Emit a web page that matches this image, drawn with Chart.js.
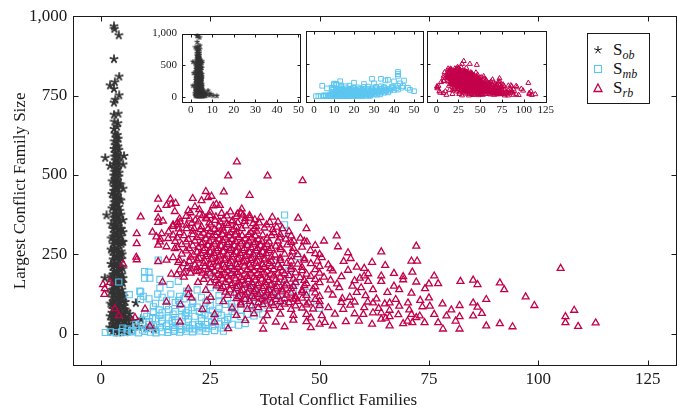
<!DOCTYPE html>
<html lang="en">
<head>
<meta charset="UTF-8">
<title>Conflict families</title>
<script src="https://cdn.jsdelivr.net/npm/chart.js"></script>
<style>
  body { margin: 0; background: #fff; }
  #wrap { position: relative; width: 697px; height: 413px; }
  #wrap > canvas { position: absolute; }
  #legend { position: absolute; left: 587px; top: 33px; width: 61px; height: 69px; border: 1px solid #1a1a1a; background: #fff;
            font-family: "Liberation Serif", "Times New Roman", serif; color: #111; }
  .row { position: absolute; left: 0; width: 60px; height: 20px; }
  .row canvas { position: absolute; left: 4px; top: 4px; }
  .row span { position: absolute; left: 25px; top: 0; font-size: 17px; line-height: 20px; white-space: nowrap; }
  .row sub { font-size: 12px; font-style: italic; vertical-align: -4px; line-height: 0; }
</style>
</head>
<body>
<div id="wrap">
  <canvas id="main" width="697" height="413" style="left:0;top:0"></canvas>
  <canvas id="inOb" width="166" height="100" style="left:140px;top:22px"></canvas>
  <canvas id="inMb" width="130" height="100" style="left:300px;top:22px"></canvas>
  <canvas id="inRb" width="134" height="100" style="left:421px;top:22px"></canvas>
  <div id="legend">
    <div class="row" style="top:6px"><canvas id="lgOb" width="12" height="12"></canvas><span>S<sub>ob</sub></span></div>
    <div class="row" style="top:25px"><canvas id="lgMb" width="12" height="12"></canvas><span>S<sub>mb</sub></span></div>
    <div class="row" style="top:44px"><canvas id="lgRb" width="12" height="12"></canvas><span>S<sub>rb</sub></span></div>
  </div>
</div>

<script>
// tick positions
const mainXTicks = [0, 25, 50, 75, 100, 125];
const mainYTicks = [0, 250, 500, 750, 1000];
const insetObXTicks = [0, 10, 20, 30, 40, 50];
const insetMbXTicks = [0, 10, 20, 30, 40, 50];
const insetRbXTicks = [0, 25, 50, 75, 100, 125];
const insetYTicks = [0, 500, 1000];

// S_ob : [total conflict families, largest family size]
const obPoints = [
  [3.0,968],[3.1,960],[4.1,940],[3.0,865],[4.2,810],[3.2,792],[2.1,782],[3.0,771],[4.2,751],[3.0,728],[3.3,737],
  [3.0,690],[4.0,693],[3.1,668],[3.9,663],[3.0,645],[3.7,652],[1.0,554],[5.3,560],[2.1,529],[5.1,533],[5.1,457],
  [1.3,373],[5.1,358],[5.1,320],[5.1,289],[5.1,175],[0.9,175],[8.0,97],[6.6,62],[7.4,40],[9.2,45],[8.6,22],
  [10.4,18],[12.1,14],
  [3.2,630],[3.8,626],[3.4,618],[4.0,614],[3.1,606],[3.7,603],[3.3,594],[3.9,590],[3.0,582],[3.6,585],[4.1,579],
  [3.2,570],[3.8,567],[3.1,558],[3.7,561],[4.2,555],[3.3,546],[3.9,543],[3.0,534],[3.6,537],[4.1,531],[3.2,522],
  [3.8,519],[3.1,510],[3.7,513],[4.2,507],[2.9,498],[3.5,501],[4.1,495],[3.2,486],[3.8,483],[3.0,474],[3.6,477],
  [4.2,471],[3.1,462],[3.7,459],[2.9,450],[3.5,453],[4.1,447],[3.2,438],[3.8,435],[3.0,426],[3.6,429],[4.2,423],
  [3.1,414],[3.7,411],[2.9,402],[3.5,405],[4.1,399],[3.2,390],[3.8,393],[4.3,387],[3.0,378],[3.6,375],[2.9,366],
  [3.5,369],[4.1,363],[3.1,354],[3.7,357],[4.3,351],[3.0,342],[3.6,339],[2.8,330],[3.4,333],[4.0,327],[4.5,331],
  [3.1,318],[3.7,315],[2.8,306],[3.4,309],[4.1,303],[4.6,307],[3.0,294],[3.7,291],[2.8,282],[3.5,285],[4.2,279],
  [4.7,283],[3.1,270],[3.8,267],[2.7,258],[3.4,261],[4.1,255],[4.7,259],[3.0,246],[3.7,243],[4.4,249],[2.8,234],
  [3.5,237],[4.2,231],[4.8,235],[3.1,222],[3.8,219],[2.7,210],[3.4,213],[4.1,207],[4.7,211],[3.0,198],[3.7,195],
  [4.4,201],[2.7,186],[3.4,189],[4.1,183],[4.8,187],[3.1,174],[3.8,171],[4.5,177],[2.6,162],[3.3,165],[4.0,159],
  [4.7,163],[3.0,150],[3.7,147],[4.4,153],[2.6,138],[3.3,141],[4.0,135],[4.8,139],[2.9,126],[3.6,129],[4.3,123],
  [5.0,127],[2.6,114],[3.3,117],[4.0,111],[4.7,115],[2.8,102],[3.5,105],[4.2,99],[5.0,103],[2.5,90],[3.2,93],
  [3.9,87],[4.6,91],[5.3,88],[2.8,78],[3.5,81],[4.2,75],[4.9,79],[5.6,76],[2.5,66],[3.2,69],[3.9,63],[4.6,67],
  [5.3,64],[2.7,54],[3.4,57],[4.1,51],[4.8,55],[5.6,52],[2.5,42],[3.2,45],[3.9,39],[4.6,43],[5.4,40],[6.0,44],
  [2.7,30],[3.4,33],[4.1,27],[4.9,31],[5.7,28],[2.5,18],[3.2,21],[3.9,15],[4.6,19],[5.4,16],[6.2,20],[2.6,6],
  [3.3,9],[4.0,4],[4.8,8],[5.6,5],
  [2.6,480],[4.5,470],[2.5,440],[4.6,420],[2.5,395],[4.6,375],[2.4,345],[4.7,330],[2.4,300],[4.8,290],[2.3,265],
  [4.9,250],[2.3,220],[5.0,205],[2.2,180],[5.0,160],[2.2,130],[5.2,118],[2.2,95],[5.6,100],[6.0,70],[6.3,50],
  [6.5,30],[6.8,10],[2.0,20],[2.1,55]
];

// S_mb
const mbPoints = [
  [1.0,4],[2.2,6],[3.5,3],[4.8,7],[6.0,4],[7.3,6],[8.6,3],[10.0,7],[11.3,5],[12.6,3],[14.0,6],[15.3,4],[16.7,7],
  [18.0,5],[19.5,8],[21.0,6],[22.5,9],[24.0,7],[26.0,10],[28.0,8],
  [5.0,18],[8.0,22],[10.5,17],[12.0,24],[13.5,19],[15.0,25],[16.5,20],[18.0,26],[19.5,21],[21.0,28],[22.5,23],
  [24.0,29],[25.5,24],[27.0,31],[28.5,26],[30.0,30],[31.5,27],[33.0,32],
  [9.0,42],[11.0,38],[12.5,47],[14.0,41],[15.5,50],[17.0,44],[18.5,53],[20.0,46],[21.5,55],[23.0,48],[24.5,57],
  [26.0,50],[27.5,58],[29.0,52],[30.5,60],[32.0,54],[33.5,61],[35.0,56],[37.0,62],
  [10.0,63],[12.0,70],[14.0,66],[15.5,76],[17.0,70],[18.5,80],[20.0,74],[22.0,84],[23.5,77],[25.0,88],[27.0,80],
  [28.5,92],[30.0,84],[32.0,95],[34.0,87],[36.0,98],[38.0,90],[40.0,100],
  [12.5,96],[15.0,104],[17.0,98],[19.0,110],[21.0,103],[23.0,115],[25.0,108],[27.0,120],[29.0,112],[31.0,124],
  [33.0,116],[35.0,128],[37.0,120],[39.0,130],[41.0,125],
  [22.0,138],[25.0,145],[27.0,150],[31.0,146],[33.5,155],[35.0,142],[39.0,150],[42.0,160],[44.5,160],[47.0,130],
  [48.0,100],
  [9.5,12],[11.0,30],[12.5,12],[14.0,33],[15.5,13],[17.0,35],[18.5,14],[20.0,37],[21.5,15],[23.0,40],[24.5,16],
  [26.0,42],[27.5,18],[29.0,45],[10.5,55],[12.0,85],[13.5,58],[15.0,88],[16.5,62],[18.0,92],[19.5,66],[21.0,96],
  [22.5,70],[24.0,100],[25.5,74],[27.0,104],[14.0,115],[16.0,125],[18.0,118],[20.0,128],[11.0,110],[13.0,125],
  [7.0,10],[8.0,30],[6.0,15],[30.0,70],[32.0,75],[34.0,110],[36.0,78],[38.0,110],[42.0,105],[44.0,135],
  [11.8,48],[13.3,75],[16.3,40],[17.8,105],[19.3,58],[20.8,82],[22.3,30],[23.8,62],[25.3,36],[26.8,66],[28.3,40],
  [29.8,95],[16.8,12],[20.3,16],[23.3,18],
  [4.1,163],[6.5,123],[9.1,132],[9.1,108],[10.0,196],[10.0,175],[11.0,194],[11.2,175],[13.5,171],[8.9,134],
  [9.7,118],[13.5,144],[15.8,155],[17.7,165],[19.6,134],[13.1,232],[42.0,374],[42.0,343],[42.0,315],[45.0,243],
  [50.0,80],[40.0,230],[35.7,245],[29.0,270],[33.5,270],[37.0,255],[25.0,190],[30.0,200],[20.0,210],[43.0,200]
];

// S_rb
const rbPoints = [
  [0.5,155],[0.9,142],[0.8,124],[2.1,162],[3.2,79],[4.1,57],[5.1,219],[8.2,315],[8.2,284],[8.1,241],[8.2,233],
  [9.1,368],[7.8,51],[10.1,78],[11.2,24],
  [31.1,541],[29.1,497],[38.1,497],[46.1,482],[24.0,448],[28.1,447],[34.0,436],[25.3,433],[21.0,426],[24.5,429],
  [23.0,419],[13.1,424],[15.9,424],[17.1,411],[16.1,408],[15.0,404],[13.1,392],[16.9,385],[20.0,388],[21.5,400],
  [22.5,391],[25.7,403],[26.4,408],[27.2,404],[32.2,393],[31.2,377],[32.5,374],[34.0,364],[32.9,354],[29.9,352],
  [39.2,367],[38.6,351],[37.9,343],[36.2,349],[45.1,364],[47.0,331],[13.1,365],[13.1,351],[14.2,355],[20.3,362],
  [24.9,372],[24.2,362],[17.7,343],[16.5,343],[18.1,352],[19.6,331],[11.8,320],[12.7,305],[13.9,315],[15.4,300],
  [13.5,289],[40.9,302],[42.3,298],[44.1,292],[47.1,289],[41.1,265],[51.0,292],[50.0,250],[53.9,308],[54.2,274],
  [57.1,237],
  [13.1,279],[15.0,274],[16.9,268],[13.1,227],[15.0,232],[16.5,240],[17.7,225],[16.1,188],[17.4,186],[19.0,191],
  [20.5,191],[21.9,196],[23.2,191],[14.1,163],[22.2,162],[20.0,123],[20.7,113],[25.1,115],[24.2,103],[15.0,100],
  [18.2,92],[23.2,77],[18.1,37],[26.0,37],
  [72.1,276],[64.1,258],[71.0,229],[72.3,229],[105.1,206],[71.2,194],[60.2,206],[76.2,182],[82.2,165],[85.1,169],
  [86.1,155],[91.2,160],[92.2,139],[77.1,158],[75.0,157],[72.1,163],[97.1,116],[88.1,108],[99.1,89],[108.2,74],
  [106.2,54],[106.2,35],[109.1,23],[113.1,34],[94.1,22],[91.2,32],[88.1,25],[85.1,97],[86.1,84],[87.1,64],
  [85.1,56],[82.0,89],[82.0,54],[82.0,15],[81.1,40],[78.1,94],[78.2,15],[77.1,35],[80.1,75],[79.0,56],[75.2,87],
  [76.2,61],[74.1,142],[75.0,113],[71.0,128],[69.1,180],[69.1,170],[68.2,139],[68.2,87],[70.2,97],[71.0,61],
  [72.1,51],[69.1,32],[71.2,35],[70.1,40],[72.9,56],[67.4,108],[66.0,97],[66.0,74],[66.0,54],[64.1,182],
  [64.1,165],[64.1,66],[64.1,46],[61.1,189],[60.2,182],[61.1,165],[58.0,167],[59.2,175],[62.2,97],[62.2,66],
  [60.0,61],[60.2,82],[65.1,49],[64.9,94],[62.2,139],[56.0,38],[58.0,63],[55.4,77],[56.9,115],[55.2,111],
  [58.5,130],[60.5,120],[63.0,110],[65.5,130],[67.0,150],[59.5,145],[61.0,100],[63.5,80],[57.0,90],[59.0,40],
  [62.0,30],[66.0,25],[68.0,60],[70.5,75],[73.0,105],[73.5,85],[74.0,35],[67.0,190],[62.0,225],[58.5,210],
  [56.5,255],[65.0,215],
  [50.5,240],[52.5,205],[55.0,180],[54.5,145],[56.5,200],[55.5,228],[53.0,25],[50.0,30],[57.5,150],[58.0,100],
  [44.5,110],[48.0,50],
  [20.5,381],[22.6,377],[25.0,383],[27.6,379],[29.6,384],[32.0,380],
  [18.0,362],[21.6,358],[24.0,364],[26.1,357],[28.1,361],[30.1,356],[33.0,363],[35.2,359],
  [16.5,338],[19.6,342],[23.0,337],[25.1,343],[27.0,339],[29.1,341],[31.0,336],[33.1,340],[35.5,338],[40.2,336],
  [15.5,321],[18.0,318],[21.0,323],[23.5,317],[25.0,322],[26.6,319],[28.0,324],[29.5,318],[31.0,321],[34.3,319],
  [35.6,323],[39.5,318],[43.0,322],
  [13.6,298],[17.5,302],[20.0,297],[22.0,303],[24.0,299],[25.5,304],[27.0,298],[28.5,302],[30.0,297],[31.5,303],
  [33.0,299],[34.5,302],[36.0,296],[38.0,301],[45.6,301],
  [18.5,281],[21.0,277],[23.0,283],[24.5,278],[26.0,282],[27.5,276],[29.0,281],[30.5,277],[32.0,283],[33.5,278],
  [35.0,282],[36.5,277],[38.0,281],[40.0,276],[42.6,280],[49.0,278],
  [19.5,261],[22.0,257],[23.5,262],[25.0,256],[26.5,261],[28.0,258],[29.5,263],[31.0,257],[32.5,262],[34.0,256],
  [35.5,261],[37.0,257],[38.5,262],[43.8,258],[47.9,262],
  [20.5,241],[22.5,237],[24.0,243],[25.5,238],[27.0,242],[28.5,236],[30.0,241],[31.5,238],[33.0,243],[34.5,237],
  [36.0,242],[37.5,236],[39.0,241],[41.0,238],[43.5,243],[46.5,237],
  [19.0,221],[21.5,217],[23.5,222],[25.0,218],[26.5,223],[28.0,217],[29.5,221],[31.0,218],[32.5,223],[34.0,217],
  [35.5,222],[37.0,218],[38.5,221],[40.5,217],[42.5,222],[45.0,219],[48.0,221],[52.0,217],
  [18.0,201],[20.5,204],[22.5,198],[24.5,203],[26.0,197],[27.5,202],[29.0,198],[30.5,203],[32.0,197],[33.5,202],
  [35.0,198],[36.5,203],[38.0,197],[39.5,202],[41.5,198],[43.5,203],[46.0,199],[49.0,202],[53.0,198],
  [19.0,178],[24.0,182],[26.0,177],[27.5,183],[29.0,179],[30.5,182],[32.0,177],[33.5,181],[35.0,178],[36.5,183],
  [38.0,177],[39.5,182],[41.0,178],[43.0,183],[45.5,177],[48.0,181],[51.0,178],
  [25.0,161],[27.0,157],[28.5,162],[30.0,158],[31.5,163],[33.0,157],[34.5,161],[36.0,158],[37.5,162],[39.0,156],
  [40.5,161],[42.5,157],[44.5,162],[47.0,158],[50.0,161],[54.0,157],
  [20.0,141],[24.0,137],[27.5,142],[29.5,138],[31.0,143],[32.5,137],[34.0,141],[35.5,138],[37.0,143],[38.5,137],
  [40.0,141],[41.5,138],[43.5,142],[46.0,137],[48.5,141],[52.0,138],
  [29.0,121],[31.5,117],[33.0,122],[34.5,118],[36.0,123],[37.5,117],[39.0,121],[40.5,118],[42.5,122],[44.5,117],
  [47.0,121],[50.0,118],[53.0,122],
  [28.0,101],[32.0,97],[34.0,102],[36.0,98],[37.5,103],[39.0,97],[41.0,101],[43.0,98],[45.0,102],[47.5,97],
  [50.0,101],[55.0,99],
  [30.0,81],[33.5,77],[36.0,82],[38.5,78],[41.0,83],[43.5,77],[46.0,81],[48.5,78],[52.0,82],
  [26.0,61],[31.0,58],[35.0,63],[38.0,57],[41.0,62],[44.0,58],[47.0,61],[50.5,57],[53.5,62],
  [33.0,42],[37.1,40],[40.0,37],[44.0,43],[47.0,38],[51.2,36],
  [29.1,16],[37.1,15],[42.0,22],[48.0,19],
  [19.5,370],[23.3,372],[26.3,368],[28.8,371],[31.0,369],[34.0,372],[36.5,366],
  [17.5,350],[20.8,348],[22.3,352],[24.8,349],[27.3,352],[28.8,347],[31.3,350],[34.8,347],[40.5,352],
  [17.8,330],[21.3,332],[22.8,328],[24.5,331],[26.0,329],[27.8,333],[30.3,328],[32.2,331],[35.0,330],[37.4,333],
  [39.3,328],[41.5,331],
  [16.5,311],[19.0,309],[21.0,312],[22.8,308],[24.5,311],[26.2,309],[27.8,313],[29.3,308],[30.8,311],[32.3,309],
  [33.8,312],[35.3,308],[37.0,311],[39.0,309],[41.0,312],[43.5,308],
  [17.0,291],[19.5,289],[21.5,292],[23.3,288],[24.8,291],[26.3,289],[27.8,293],[29.3,288],[30.8,291],[32.3,289],
  [33.8,292],[35.3,288],[36.8,291],[38.5,289],[40.5,292],[43.5,288],[46.5,291],
  [17.5,271],[20.2,268],[22.3,272],[23.8,269],[25.3,273],[26.8,268],[28.3,271],[29.8,269],[31.3,273],[32.8,268],
  [34.3,271],[35.8,269],[37.3,272],[39.0,268],[41.0,271],[44.0,269],[46.0,273],
  [18.5,251],[21.2,248],[22.8,252],[24.3,249],[25.8,253],[27.3,248],[28.8,251],[30.3,249],[31.8,253],[33.3,248],
  [34.8,251],[36.3,249],[37.8,252],[39.8,248],[42.0,251],[45.0,249],[49.0,252],
  [18.0,231],[20.2,228],[22.0,232],[23.8,229],[25.3,233],[26.8,228],[28.3,231],[29.8,229],[31.3,233],[32.8,228],
  [34.3,231],[35.8,229],[37.3,232],[39.0,228],[41.0,231],[43.5,229],[46.5,232],[49.5,229],
  [19.8,211],[22.0,208],[23.8,212],[25.3,209],[26.8,213],[28.3,208],[29.8,211],[31.3,209],[32.8,213],[34.3,208],
  [35.8,211],[37.3,209],[39.0,212],[41.0,208],[43.5,211],[46.0,209],[50.0,212],
  [25.0,191],[26.8,188],[28.3,192],[29.8,189],[31.3,193],[32.8,188],[34.3,191],[35.8,189],[37.3,192],[38.8,188],
  [40.5,191],[42.0,189],[44.5,192],[47.0,188],[50.0,191],
  [23.5,171],[26.3,168],[27.8,172],[29.3,169],[30.8,173],[32.3,168],[33.8,171],[35.3,169],[36.8,172],[38.3,168],
  [40.0,171],[42.0,169],[44.0,172],[46.5,168],[49.0,171],[52.5,169],
  [26.5,151],[28.0,148],[29.8,152],[31.3,149],[32.8,153],[34.3,148],[35.8,151],[37.3,149],[38.8,152],[40.3,148],
  [42.0,151],[44.0,149],[46.5,152],[49.0,148],
  [28.5,131],[30.5,128],[32.0,132],[33.5,129],[35.0,133],[36.5,128],[38.0,131],[39.5,129],[41.5,132],[43.5,128],
  [46.0,131],[49.0,129],
  [31.0,111],[33.0,108],[35.0,112],[36.8,109],[38.5,113],[40.0,108],[42.0,111],[44.0,109],[46.0,112],[49.0,108],
  [32.0,91],[34.5,88],[37.0,92],[39.5,89],[42.0,93],[44.5,88],[47.0,91],[50.0,89]
];

const FONT = '"Liberation Serif", "Times New Roman", serif';
const INK = '#1a1a1a';
const OB_COLOR = '#333333';
const MB_COLOR = '#5cc6f0';
const RB_COLOR = '#c3004a';

Chart.defaults.font.family = FONT;
Chart.defaults.color = INK;

function pts(list) {
  return list.map(p => ({ x: p[0], y: p[1] }));
}

// five-spoke asterisk, like the pgfplots star mark
function drawStar(g, cx, cy, r, color, lw) {
  g.strokeStyle = color;
  g.lineWidth = lw;
  g.beginPath();
  for (let k = 0; k < 5; k++) {
    const a = -Math.PI / 2 + k * 2 * Math.PI / 5;
    g.moveTo(cx, cy);
    g.lineTo(cx + r * Math.cos(a), cy + r * Math.sin(a));
  }
  g.stroke();
}

function makeStar(size, lw) {
  const c = document.createElement('canvas');
  c.width = size; c.height = size;
  drawStar(c.getContext('2d'), size / 2, size / 2, size / 2 - 0.5, OB_COLOR, lw);
  return c;
}

const framePlugin = {
  id: 'frame',
  afterDatasetsDraw(chart, args, opts) {
    const { ctx, chartArea: a, scales } = chart;
    const t = opts.tick || 4;
    const l = Math.round(a.left) + 0.5, r = Math.round(a.right) - 0.5;
    const tp = Math.round(a.top) + 0.5, b = Math.round(a.bottom) - 0.5;
    ctx.save();
    ctx.strokeStyle = INK;
    ctx.lineWidth = 1;
    ctx.beginPath();
    scales.x.ticks.forEach(tk => {
      const p = Math.round(scales.x.getPixelForValue(tk.value)) + 0.5;
      ctx.moveTo(p, b); ctx.lineTo(p, b - t);
      ctx.moveTo(p, tp); ctx.lineTo(p, tp + t);
    });
    scales.y.ticks.forEach(tk => {
      const p = Math.round(scales.y.getPixelForValue(tk.value)) + 0.5;
      ctx.moveTo(l, p); ctx.lineTo(l + t, p);
      ctx.moveTo(r, p); ctx.lineTo(r - t, p);
    });
    ctx.stroke();
    ctx.strokeRect(l, tp, r - l, b - tp);
    ctx.restore();
  }
};

function axis(min, max, tickList, tickOpts, fit) {
  return {
    type: 'linear', min: min, max: max,
    grid: { display: false, drawTicks: false },
    border: { display: false },
    afterBuildTicks: s => { s.ticks = tickList.map(v => ({ value: v })); },
    afterFit: fit,
    ticks: Object.assign({ color: INK, callback: v => v.toLocaleString('en-US') }, tickOpts)
  };
}

// main plot
new Chart(document.getElementById('main'), {
  type: 'scatter',
  data: {
    datasets: [
      { label: 'S_ob', data: pts(obPoints), pointStyle: makeStar(10, 1.8), pointRadius: 5, order: 3 },
      { label: 'S_mb', data: pts(mbPoints), pointStyle: 'rect', pointRadius: 4.3, borderWidth: 1.1,
        borderColor: MB_COLOR, backgroundColor: 'rgba(0,0,0,0)', order: 2 },
      { label: 'S_rb', data: pts(rbPoints), pointStyle: 'triangle', pointRadius: 4, borderWidth: 1.3,
        borderColor: RB_COLOR, backgroundColor: 'rgba(0,0,0,0)', order: 1 }
    ]
  },
  options: {
    responsive: false, animation: false, events: [],
    layout: { padding: { left: 0, right: 20, top: 12, bottom: 0 } },
    plugins: {
      legend: { display: false },
      tooltip: { enabled: false },
      title: { display: true, position: 'bottom', text: 'Total Conflict Families', color: INK,
               font: { size: 17, weight: 'normal' }, padding: { top: 2, bottom: 2 } },
      frame: { tick: 5 }
    },
    scales: {
      x: axis(-6.3, 131.7, mainXTicks, { font: { size: 17 }, padding: 4 }, s => { s.height = 23.1; }),
      y: Object.assign(axis(-100, 1000, mainYTicks, { font: { size: 17 }, padding: 6 }, s => { s.width = 73.3; }), {
        title: { display: true, text: 'Largest Conflict Family Size', color: INK, font: { size: 17 },
                 padding: { top: 10, bottom: 0 } }
      })
    }
  },
  plugins: [framePlugin]
});

// insets
function inset(id, points, style, radius, xMin, xMax, xTicks, showY, pad) {
  const ds = { data: pts(points), pointStyle: style, pointRadius: radius, borderWidth: 1,
               backgroundColor: 'rgba(0,0,0,0)' };
  if (style === 'rect') ds.borderColor = MB_COLOR;
  if (style === 'triangle') ds.borderColor = RB_COLOR;
  new Chart(document.getElementById(id), {
    type: 'scatter',
    data: { datasets: [ds] },
    options: {
      responsive: false, animation: false, events: [],
      layout: { padding: pad },
      plugins: { legend: { display: false }, tooltip: { enabled: false }, frame: { tick: 3 } },
      scales: {
        x: axis(xMin, xMax, xTicks, { font: { size: 11 }, padding: 1, maxRotation: 0, autoSkip: false },
                s => { s.height = 19; }),
        y: axis(-100, 1000, insetYTicks, { font: { size: 11 }, padding: 5, display: showY },
                s => { s.width = showY ? 42 : 0; })
      }
    },
    plugins: [framePlugin]
  });
}

inset('inOb', obPoints, makeStar(6, 1.3), 3, -4.1, 51.2, insetObXTicks, true, { left: 0, right: 4, top: 9, bottom: 0 });
inset('inMb', mbPoints, 'rect', 3.3, -4, 55, insetMbXTicks, false, { left: 6, right: 6, top: 9, bottom: 0 });
inset('inRb', rbPoints, 'triangle', 2.9, -11, 126, insetRbXTicks, false, { left: 6, right: 8, top: 9, bottom: 0 });

// legend symbols
(function () {
  let g = document.getElementById('lgOb').getContext('2d');
  drawStar(g, 6, 6, 4, '#111', 1);
  g = document.getElementById('lgMb').getContext('2d');
  g.strokeStyle = MB_COLOR; g.lineWidth = 1.1;
  g.strokeRect(2.5, 2.5, 7, 7);
  g = document.getElementById('lgRb').getContext('2d');
  g.strokeStyle = RB_COLOR; g.lineWidth = 1.3;
  g.beginPath(); g.moveTo(6, 2); g.lineTo(10, 9.5); g.lineTo(2, 9.5); g.closePath(); g.stroke();
})();
</script>
</body>
</html>
